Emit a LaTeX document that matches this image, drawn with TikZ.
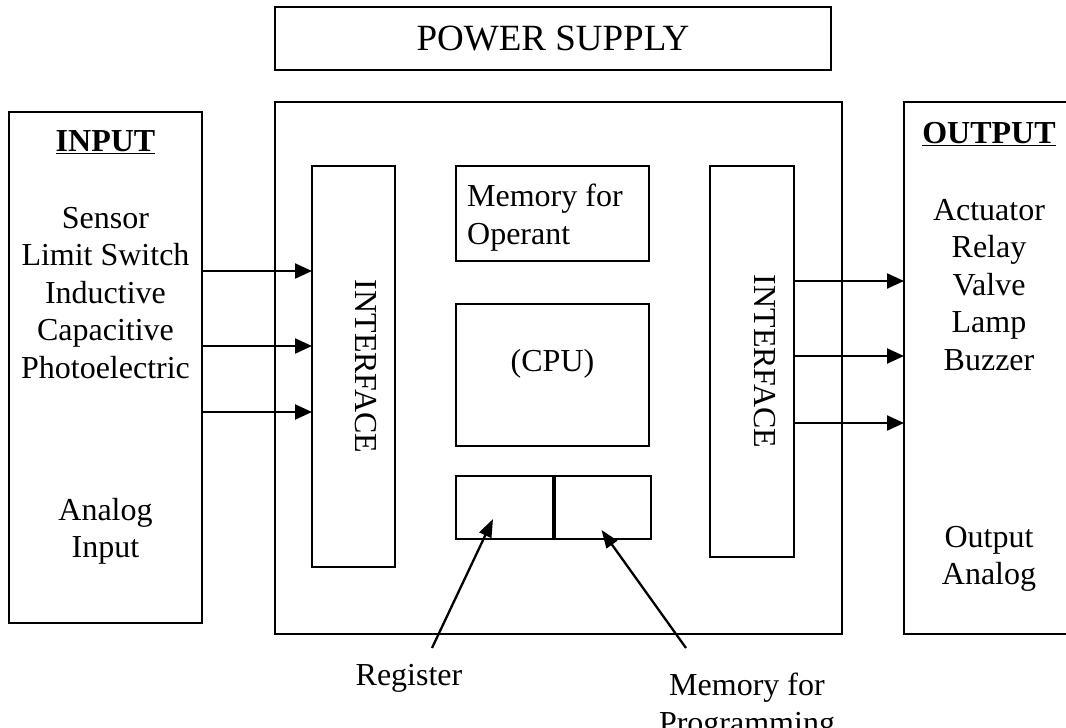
\documentclass[tikz,border=0pt]{standalone}
\usepackage{fontspec}
\setmainfont{Liberation Serif}
\usetikzlibrary{positioning,arrows.meta}

\begin{document}
\begin{tikzpicture}[x=1pt,y=-1pt,line width=2.3pt,font=\fontsize{32}{37.5}\selectfont,
  box/.style 2 args={draw,minimum width=#1,minimum height=#2,inner sep=0pt,outer sep=0pt},
  txt/.style={align=center,inner sep=0pt,anchor=north},
  arr/.style={-{Triangle[length=17pt,width=15pt]}},
  ptr/.style={-{Triangle[length=18pt,width=13pt]}}]
  \useasboundingbox (0,0) rectangle (1066,728);
  \node[box={556}{63},font=\fontsize{37}{44}\selectfont] (power) at (553,38.5) {POWER SUPPLY};
  \node[box={567}{532}] (plc) at (558.5,368) {};
  \node[box={193}{511}] (input) at (105.5,367.5) {};
  \node[box={170}{532}] (output) at (989,368) {};
  \node[box={83}{401}] (lif) at (353.5,366.5) {};
  \node[box={84}{391}] (rif) at (752,361.5) {};
  \node[box={193}{95}] (opmem) at (552.5,213.5) {};
  \node[box={193}{142}] (cpu) at (552.5,375) {};
  \node[box={97}{63}] (reg) at (504.5,507.5) {};
  \node[box={96}{63},right=2pt of reg] (prog) {};
  \node[txt] (intitle) at (105.5,129) {\textbf{\underline{INPUT}}};
  \node[txt] (inlist) at (105.5,206) {Sensor\\Limit Switch\\Inductive\\Capacitive\\Photoelectric};
  \node[txt] (inanalog) at (105.5,497) {Analog\\Input};
  \node[txt] (outtitle) at (989,121) {\textbf{\underline{OUTPUT}}};
  \node[txt] (outlist) at (989,198) {Actuator\\Relay\\Valve\\Lamp\\Buzzer};
  \node[txt] (outanalog) at (989,525) {Output\\Analog};
  \node[txt,anchor=north west,align=left] (optext) at (466,183) {Memory for\\Operant};
  \node (cputext) at ([yshift=11pt]cpu.center) {(CPU)};
  \node[rotate=-90] (liftext) at ([xshift=12.5pt]lif.center) {INTERFACE};
  \node[rotate=-90] (riftext) at ([xshift=13pt]rif.center) {INTERFACE};
  \node[txt] (reglbl) at (409,663) {Register};
  \node[txt] (proglbl) at (747,672) {Memory for\\Programming};
  \foreach \y in {271,346,412}
    \draw[arr] (input.east |- 0,\y) -- (lif.west |- 0,\y);
  \foreach \y in {281,356,423}
    \draw[arr] (rif.east |- 0,\y) -- (output.west |- 0,\y);
  \draw[ptr] ([xshift=23pt,yshift=15pt]reglbl.north) -- ([xshift=-11.5pt,yshift=20pt]reg.south);
  \draw[ptr] ([xshift=-61pt,yshift=24pt]proglbl.north) -- ([xshift=-1.5pt,yshift=9pt]prog.south);
\end{tikzpicture}
\end{document}
